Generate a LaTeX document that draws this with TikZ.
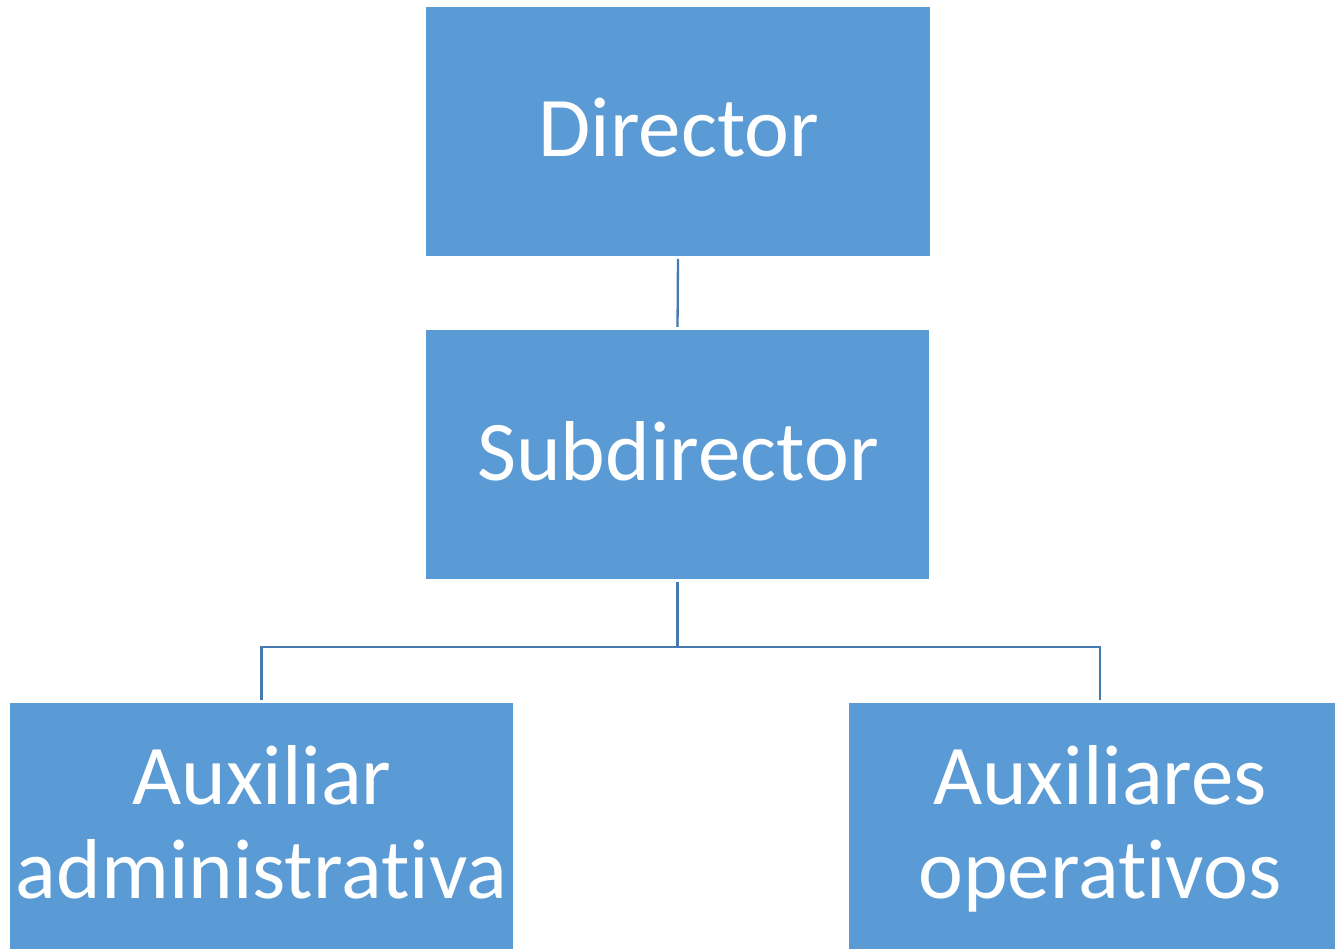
\documentclass[tikz,border=0pt]{standalone}
\usepackage{fontspec}
\setmainfont{Carlito}[Ligatures={NoCommon}]
\definecolor{boxfill}{HTML}{5B9BD5}
\definecolor{linecol}{RGB}{70,122,175}
\begin{document}
\begin{tikzpicture}[x=1pt,y=-1pt,
  orgbox/.style={draw=none,fill=boxfill,minimum width=#1,minimum height=249pt,inner sep=0pt,outer sep=0pt},
  orgbox/.default=503pt,
  lbl/.style={text=white,font=\fontsize{85}{94}\selectfont,anchor=base,inner sep=0pt},
  conn/.style={draw=linecol,line width=2.3pt,shorten <=3pt,shorten >=3pt}]
\useasboundingbox (0,0) rectangle (1335,949);
\clip (0,0) rectangle (1335,949);
\fill[white] (0,0) rectangle (1335,949);
\node[orgbox=504pt] (dir) at (678,131.5) {};
\node[orgbox] (sub) at (677.5,454.5) {};
\node[orgbox,minimum height=250pt] (aux) at (261.5,828) {};
\node[orgbox,minimum height=250pt] (ops) at (1100,828) {};
\node[lbl] (tdir) at (679,157) {Director};
\node[lbl] (tsub) at (678,480) {Subdirector};
\node[lbl] (taux1) at (262,804) {Auxiliar};
\node[lbl] (taux2) at (261.5,898) {administrativa};
\node[lbl] (tops1) at (1100,804) {Auxiliares};
\node[lbl] (tops2) at (1100,898) {operativos};
\draw[conn] (dir.south) -- (sub.north);
\draw[conn] (sub.south) -- ++(0,68) -| (aux.north);
\draw[conn] (sub.south) -- ++(0,68) -| (ops.north);
\end{tikzpicture}
\end{document}
